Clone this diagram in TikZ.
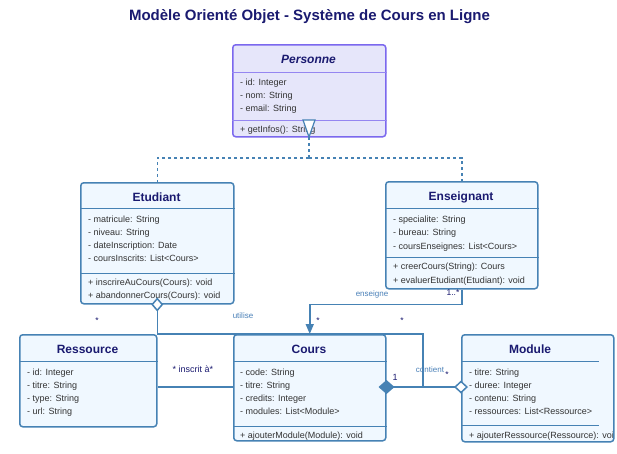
\documentclass[tikz,border=0pt]{standalone}
\usepackage{fontspec}
\setmainfont{Liberation Sans}
\usetikzlibrary{arrows.meta}
\definecolor{steel}{HTML}{4682B4}
\definecolor{boxfill}{HTML}{F0F8FF}
\definecolor{perfill}{HTML}{E6E6FA}
\definecolor{perline}{HTML}{7B68EE}
\definecolor{navyt}{HTML}{1A1A70}
\definecolor{txtgray}{HTML}{333333}
\definecolor{lblblue}{HTML}{4A80B8}
\tikzset{
  umlbox/.style={draw=steel, fill=boxfill, line width=1.5pt, rounded corners=3pt, inner sep=0pt, anchor=north west},
  perbox/.style={umlbox, draw=perline, fill=perfill},
  sepline/.style={draw=steel, line width=0.9pt},
  persep/.style={draw=perline!80, line width=0.9pt},
  clsname/.style={inner sep=0pt, font=\fontsize{12}{14}\selectfont\bfseries, text=navyt},
  attr/.style={anchor=west, inner sep=0pt, font=\fontsize{9}{11}\selectfont, text=txtgray, text height=6.5pt, text depth=1.5pt},
  conn/.style={draw=steel, line width=1.5pt},
  inh/.style={conn, dash pattern=on 3pt off 3pt},
  rolelbl/.style={inner sep=0pt, font=\fontsize{8}{10}\selectfont, text=lblblue},
  multlbl/.style={inner sep=0pt, font=\fontsize{8.5}{10}\selectfont, text=navyt},
}
\begin{document}
\begin{tikzpicture}[x=1pt,y=-1pt]
\useasboundingbox (0,0) rectangle (617,453);
\fill[white] (0,0) rectangle (617,453);

% title
\node[inner sep=0pt, font=\fontsize{15}{17}\selectfont\bfseries, text=navyt] (title) at (309.5,17) {Modèle Orienté Objet - Système de Cours en Ligne};

% ---------- Personne
\node[perbox, minimum width=153pt, minimum height=92pt] (per) at (232,44) {};
\draw[persep] (per.west |- 0,72) -- (per.east |- 0,72);
\draw[persep] (per.west |- 0,120) -- (per.east |- 0,120);
\node[clsname, font=\fontsize{12}{14}\selectfont\bfseries\itshape] (perN) at (308.5,59) {Personne};
\node[attr] (perA1) at (240,83) {- id: Integer};
\node[attr] (perA2) at (240,96) {- nom: String};
\node[attr] (perA3) at (240,109) {- email: String};
\node[attr] (perM1) at (240,130) {+ getInfos(): String};

% ---------- Etudiant
\node[umlbox, minimum width=153pt, minimum height=121pt] (etu) at (80,182) {};
\draw[sepline] (etu.west |- 0,208) -- (etu.east |- 0,208);
\draw[sepline] (etu.west |- 0,273) -- (etu.east |- 0,273);
\node[clsname] (etuN) at (156.5,197) {Etudiant};
\node[attr] (etuA1) at (88,220) {- matricule: String};
\node[attr] (etuA2) at (88,233) {- niveau: String};
\node[attr] (etuA3) at (88,246) {- dateInscription: Date};
\node[attr] (etuA4) at (88,259) {- coursInscrits: List<Cours>};
\node[attr] (etuM1) at (88,283) {+ inscrireAuCours(Cours): void};
\node[attr] (etuM2) at (88,296) {+ abandonnerCours(Cours): void};

% ---------- Enseignant
\node[umlbox, minimum width=152pt, minimum height=107pt] (ens) at (385,181) {};
\draw[sepline] (ens.west |- 0,208) -- (ens.east |- 0,208);
\draw[sepline] (ens.west |- 0,257) -- (ens.east |- 0,257);
\node[clsname] (ensN) at (461,197) {Enseignant};
\node[attr] (ensA1) at (393,220) {- specialite: String};
\node[attr] (ensA2) at (393,233) {- bureau: String};
\node[attr] (ensA3) at (393,247) {- coursEnseignes: List<Cours>};
\node[attr] (ensM1) at (393,267) {+ creerCours(String): Cours};
\node[attr] (ensM2) at (393,281) {+ evaluerEtudiant(Etudiant): void};

% ---------- Ressource
\node[umlbox, minimum width=137pt, minimum height=92pt] (res) at (19,334) {};
\draw[sepline] (res.west |- 0,361) -- (res.east |- 0,361);
\node[clsname] (resN) at (87.5,349) {Ressource};
\node[attr] (resA1) at (27,373) {- id: Integer};
\node[attr] (resA2) at (27,386) {- titre: String};
\node[attr] (resA3) at (27,399) {- type: String};
\node[attr] (resA4) at (27,412) {- url: String};

% ---------- Cours
\node[umlbox, minimum width=152pt, minimum height=106pt] (cours) at (233,334) {};
\draw[sepline] (cours.west |- 0,361) -- (cours.east |- 0,361);
\draw[sepline] (cours.west |- 0,426) -- (cours.east |- 0,426);
\node[clsname] (coursN) at (309,349) {Cours};
\node[attr] (coursA1) at (240,373) {- code: String};
\node[attr] (coursA2) at (240,386) {- titre: String};
\node[attr] (coursA3) at (240,399) {- credits: Integer};
\node[attr] (coursA4) at (240,412) {- modules: List<Module>};
\node[attr] (coursM1) at (240,436) {+ ajouterModule(Module): void};

% ---------- Module
\node[umlbox, minimum width=152pt, minimum height=107pt] (mod) at (461,334) {};
\draw[sepline] (mod.west |- 0,361) -- (599,361);
\draw[sepline] (mod.west |- 0,425) -- (599,425);
\node[clsname] (modN) at (530,349) {Module};
\node[attr] (modA1) at (469,373) {- titre: String};
\node[attr] (modA2) at (469,386) {- duree: Integer};
\node[attr] (modA3) at (469,399) {- contenu: String};
\node[attr] (modA4) at (469,412) {- ressources: List<Ressource>};
\begin{scope}
\clip (461,334) rectangle (612,441);
\node[attr] (modM1) at (469,436) {+ ajouterRessource(Ressource): void};
\end{scope}

% ---------- Inheritance
\coordinate (tri) at (309,137);
\coordinate (hj) at (309,158);
\draw[inh] (tri) -- (hj);
\draw[inh] (hj) -| (etu.north);
\draw[inh] (hj) -| (ens.north);
\draw[draw=steel, fill=white, line width=1.2pt, line join=miter] (303,120) -- (315,120) -- (tri) -- cycle;

% ---------- enseigne
\draw[conn, -{Triangle[length=10pt,width=8pt]}] (ens.south) -- ++(0,15) -| (cours.north);
\node[rolelbl] (lEns) at (372,294) {enseigne};
\node[multlbl] (mEns1) at (453,293) {1..*};
\node[multlbl] (mEns2) at (318,321) {*};

% ---------- utilise
\coordinate (uj) at (423,387);
\draw[conn, {Diamond[open,fill=white,length=14pt,width=12pt]}-] ([yshift=7pt]etu.south) -- (etu.south |- cours.north) -| (uj);
\node[rolelbl] (lUti) at (243,316) {utilise};
\node[multlbl] (mUti1) at (97,321) {*};
\node[multlbl] (mUti2) at (402,321) {*};

% ---------- inscrit
\draw[conn] (res.east |- 0,387) -- (cours.west |- 0,387);
\node[inner sep=0pt, font=\fontsize{9}{11}\selectfont, text=navyt] (lIns) at (193,369) {* inscrit à*};

% ---------- contient
\draw[conn, {Diamond[length=16pt,width=14pt]}-{Diamond[open,fill=white,length=14pt,width=13pt]}] ([xshift=-8pt]cours.east |- 0,387) -- ([xshift=7pt]mod.west |- 0,387);
\node[inner sep=0pt, font=\fontsize{9}{11}\selectfont, text=navyt] (mCon1) at (395,377) {1};
\node[rolelbl] (lCon) at (430,370) {contient};
\node[multlbl] (mCon2) at (447,375) {*};
\end{tikzpicture}
\end{document}
